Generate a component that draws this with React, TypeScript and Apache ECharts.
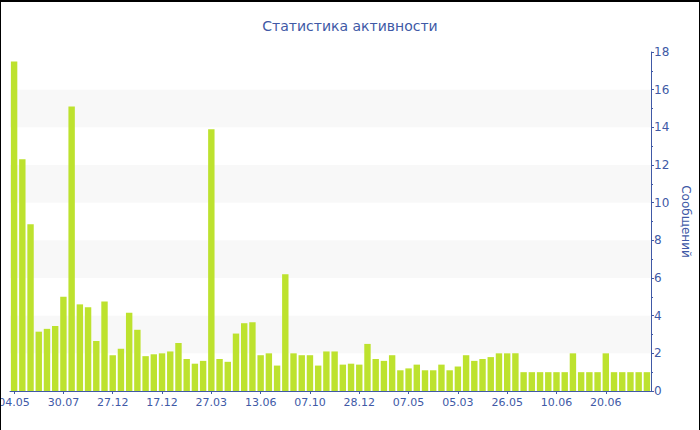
import React, { useEffect, useRef } from "react";
import * as echarts from "echarts";

const titleText = "Статистика активности";
const yAxisName = "Сообщений";

const tickLabels = ["04.05", "30.07", "27.12", "17.12", "27.03", "13.06", "07.10", "28.12", "07.05", "05.03", "26.05", "10.06", "20.06"];

const values = [
  17.5, 12.3, 8.85, 3.15, 3.3, 3.45, 5.0, 15.1, 4.6, 4.45,
  2.65, 4.75, 1.9, 2.25, 4.15, 3.25, 1.85, 1.95, 2.0, 2.1,
  2.55, 1.7, 1.45, 1.6, 13.9, 1.7, 1.55, 3.05, 3.6, 3.65,
  1.9, 2.0, 1.35, 6.2, 2.0, 1.9, 1.9, 1.35, 2.1, 2.1,
  1.4, 1.45, 1.4, 2.5, 1.7, 1.6, 1.9, 1.1, 1.2, 1.4,
  1.1, 1.1, 1.4, 1.1, 1.3, 1.9, 1.6, 1.7, 1.8, 2.0,
  2.0, 2.0, 1.0, 1.0, 1.0, 1.0, 1.0, 1.0, 2.0, 1.0,
  1.0, 1.0, 2.0, 1.0, 1.0, 1.0, 1.0, 1.0,
];

const LABEL_STEP = 6;
// category names: the labelled ones are known; the others are unlabeled in the picture
const categories: string[] = values.map((_, i) =>
  i % LABEL_STEP === 0 ? tickLabels[i / LABEL_STEP] ?? "" : ""
);

const BLUE = "#4059a6";
const FONT = "DejaVu Sans";

export default function App() {
  const ref = useRef<HTMLDivElement>(null);
  useEffect(() => {
    document.body.style.margin = "0";
    const chart = echarts.init(ref.current!, undefined, { renderer: "svg" });
    chart.setOption({
      animation: false,
      backgroundColor: "#ffffff",
      title: {
        text: titleText,
        left: "center",
        top: 12,
        textStyle: { color: BLUE, fontFamily: FONT, fontSize: 14, fontWeight: "normal" },
      },
      grid: { left: 9, right: 48, top: 50, bottom: 39, containLabel: false, outerBoundsMode: "none" },
      xAxis: {
        type: "category",
        data: categories,
        boundaryGap: true,
        axisLine: { lineStyle: { color: BLUE, width: 1 } },
        axisTick: { show: true, interval: LABEL_STEP - 1, alignWithLabel: true, length: 3, lineStyle: { color: BLUE } },
        axisLabel: { interval: LABEL_STEP - 1, color: BLUE, fontFamily: FONT, fontSize: 11, margin: 6 },
        splitLine: { show: false },
      },
      yAxis: {
        type: "value",
        position: "right",
        min: 0,
        max: 18,
        interval: 2,
        name: yAxisName,
        nameLocation: "middle",
        nameRotate: -90,
        nameGap: 27,
        nameTextStyle: { color: BLUE, fontFamily: FONT, fontSize: 12 },
        axisLine: { show: true, lineStyle: { color: BLUE, width: 1 } },
        axisTick: { show: true, length: 3, lineStyle: { color: BLUE } },
        minorTick: { show: true, splitNumber: 2, length: 2, lineStyle: { color: BLUE } },
        axisLabel: { color: BLUE, fontFamily: FONT, fontSize: 12, margin: 3 },
        splitLine: { show: false },
        splitArea: { show: true, areaStyle: { color: ["rgba(255,255,255,0)", "#f8f8f8"] } },
      },
      series: [
        {
          type: "bar",
          data: values,
          barCategoryGap: "22%",
          itemStyle: { color: "#bde22e" },
        },
      ],
    });
    return () => chart.dispose();
  }, []);
  return (
    <div
      ref={ref}
      style={{
        width: 700,
        height: 430,
        boxSizing: "border-box",
        borderTop: "2px solid #000",
        borderLeft: "1px solid #000",
        borderRight: "1px solid #000",
      }}
    />
  );
}
